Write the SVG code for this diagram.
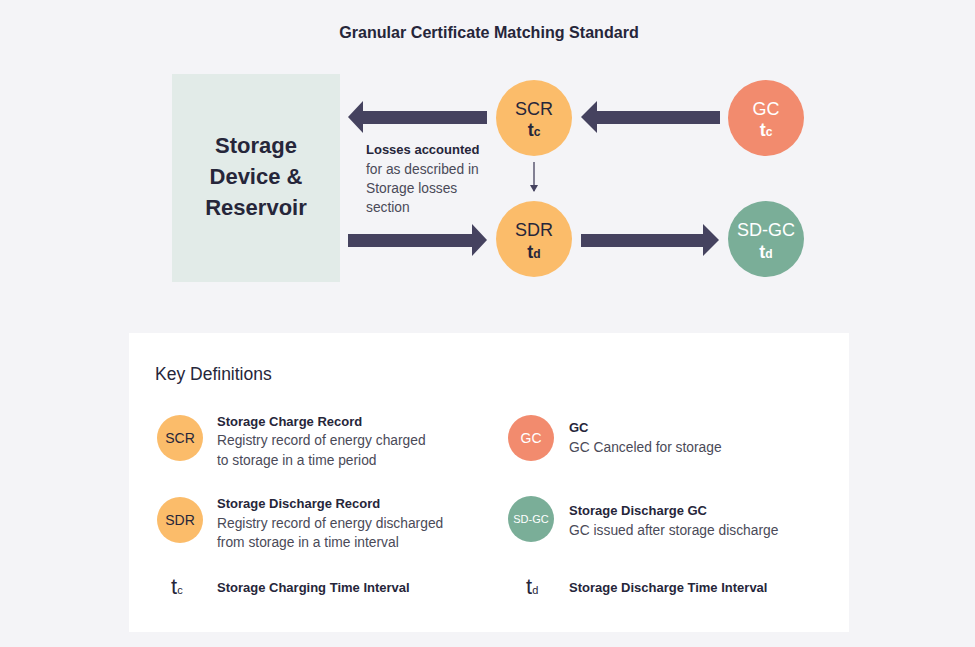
<svg xmlns="http://www.w3.org/2000/svg" width="975" height="647" viewBox="0 0 975 647">
<style>
text{font-family:"Liberation Sans","Noto Sans",Arial,sans-serif;fill:#26263a}
.b{font-weight:bold}
.d{font-size:13.8px;fill:#4a4a58}
.h{font-size:13px;font-weight:bold}
.cl{font-size:18px;text-anchor:middle}
.t{font-weight:bold}
.w{fill:#ffffff}
.arr{fill:#45425f}
</style>
<defs>
<marker id="sm" markerWidth="8" markerHeight="8" refX="6" refY="4" orient="auto" markerUnits="userSpaceOnUse">
<path d="M0,0 L7,4 L0,8 Z" fill="#45425f"/>
</marker>
</defs>
<rect width="975" height="647" fill="#f4f4f7"/>
<text x="489" y="38" text-anchor="middle" class="b" font-size="16.1">Granular Certificate Matching Standard</text>

<g id="storage">
<rect x="172" y="74" width="168" height="208" fill="#e2ebe8"/>
<text x="256" y="153" text-anchor="middle" font-size="22" class="b">Storage</text>
<text x="256" y="184" text-anchor="middle" font-size="22" class="b">Device &amp;</text>
<text x="256" y="215" text-anchor="middle" font-size="22" class="b">Reservoir</text>
</g>

<g id="connectors">
<path class="arr" d="M487,111 L363,111 L363,101 L348,117 L363,133 L363,124 L487,124 Z"/>
<path class="arr" d="M720,111 L597,111 L597,101 L581,117 L597,133 L597,124 L720,124 Z"/>
<path class="arr" d="M348,234 L472,234 L472,224 L487,240 L472,256 L472,247 L348,247 Z"/>
<path class="arr" d="M581,234 L703,234 L703,224 L719,240 L703,256 L703,247 L581,247 Z"/>
<line x1="534" y1="162" x2="534" y2="191" stroke="#45425f" stroke-width="1.3" marker-end="url(#sm)"/>
<g id="losses-label">
<text x="366" y="154" class="h">Losses accounted</text>
<text x="366" y="174" class="d">for as described in</text>
<text x="366" y="193" class="d">Storage losses</text>
<text x="366" y="212" class="d">section</text>
</g>
</g>

<g id="scr">
<circle cx="534" cy="118" r="38" fill="#fbbc6a"/>
<text x="534" y="115" class="cl">SCR</text>
<text x="534" y="136" class="cl t"><tspan>t</tspan><tspan font-size="12">c</tspan></text>
</g>
<g id="gc">
<circle cx="766" cy="118" r="38" fill="#f28b6e"/>
<text x="766" y="115" class="cl w">GC</text>
<text x="766" y="136" class="cl w t"><tspan>t</tspan><tspan font-size="12">c</tspan></text>
</g>
<g id="sdr">
<circle cx="534" cy="239" r="38" fill="#fbbc6a"/>
<text x="534" y="236" class="cl">SDR</text>
<text x="534" y="258" class="cl t"><tspan>t</tspan><tspan font-size="12">d</tspan></text>
</g>
<g id="sdgc">
<circle cx="766" cy="239" r="38" fill="#7aae98"/>
<text x="766" y="236" class="cl w">SD-GC</text>
<text x="766" y="258" class="cl w t"><tspan>t</tspan><tspan font-size="12">d</tspan></text>
</g>

<g id="key">
<rect x="129" y="333" width="720" height="299" fill="#ffffff"/>
<text x="155" y="380" font-size="17.5">Key Definitions</text>

<circle cx="180" cy="438" r="23" fill="#fbbc6a"/>
<text x="180" y="443" text-anchor="middle" font-size="14">SCR</text>
<text x="217" y="426" class="h">Storage Charge Record</text>
<text x="217" y="445" class="d">Registry record of energy charged</text>
<text x="217" y="465" class="d">to storage in a time period</text>

<circle cx="180" cy="520" r="23" fill="#fbbc6a"/>
<text x="180" y="525" text-anchor="middle" font-size="14">SDR</text>
<text x="217" y="508" class="h">Storage Discharge Record</text>
<text x="217" y="528" class="d">Registry record of energy discharged</text>
<text x="217" y="547" class="d">from storage in a time interval</text>

<text x="171" y="594" font-size="22"><tspan>t</tspan><tspan font-size="11">c</tspan></text>
<text x="217" y="592" class="h">Storage Charging Time Interval</text>

<circle cx="531" cy="438" r="23" fill="#f28b6e"/>
<text x="531" y="443" text-anchor="middle" font-size="14" class="w">GC</text>
<text x="569" y="432" class="h">GC</text>
<text x="569" y="452" class="d">GC Canceled for storage</text>

<circle cx="531" cy="519" r="23" fill="#7aae98"/>
<text x="531" y="523" text-anchor="middle" font-size="11" class="w">SD-GC</text>
<text x="569" y="515" class="h">Storage Discharge GC</text>
<text x="569" y="535" class="d">GC issued after storage discharge</text>

<text x="526" y="594" font-size="22"><tspan>t</tspan><tspan font-size="11">d</tspan></text>
<text x="569" y="592" class="h">Storage Discharge Time Interval</text>
</g>
</svg>
